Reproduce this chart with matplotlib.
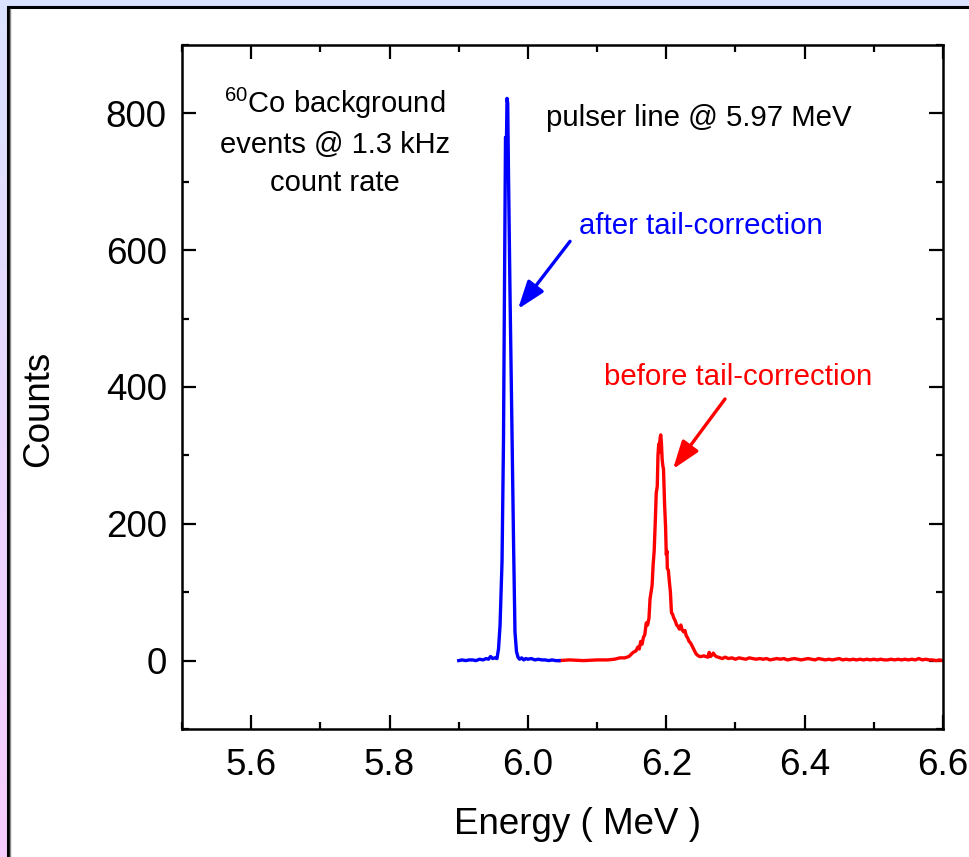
import numpy as np
import matplotlib
matplotlib.use("Agg")
import matplotlib.pyplot as plt
from matplotlib.patches import Rectangle
from matplotlib.ticker import MultipleLocator

# ---------------- data ----------------
blue_x = [5.900, 5.905, 5.910, 5.915, 5.920, 5.925, 5.930, 5.935, 5.940, 5.943,
          5.946, 5.949, 5.952, 5.9553, 5.9575, 5.9597, 5.9626, 5.9647, 5.9662,
          5.9676, 5.9690, 5.9698, 5.9708, 5.9720, 5.9741, 5.9770, 5.9792, 5.9813,
          5.9835, 5.9857, 5.988, 5.991, 5.994, 5.997, 6.000, 6.005, 6.010, 6.015,
          6.020, 6.025, 6.030, 6.035, 6.040, 6.045]
blue_y = [0, 1, 0, 1, 1, 0, 2, 1, 3, 2,
          6, 3, 4, 3, 17, 51, 145, 321, 555,
          765, 760, 822, 815, 707, 539, 334, 175, 42,
          13, 5, 2, 4, 1, 3, 2, 3, 1, 2,
          1, 1, 0, 1, 0, 0]

red_x = [6.045, 6.060, 6.080, 6.100, 6.115, 6.125, 6.133, 6.140, 6.146, 6.152,
         6.156, 6.159, 6.161, 6.163, 6.165, 6.167, 6.169, 6.171, 6.173, 6.175,
         6.1765, 6.178, 6.1795, 6.181, 6.1825, 6.184, 6.1855, 6.187, 6.188, 6.189,
         6.190, 6.1905, 6.191, 6.192, 6.193, 6.194, 6.195, 6.196, 6.1975, 6.199,
         6.200, 6.201, 6.2015, 6.203, 6.2045, 6.206, 6.2075, 6.209, 6.211, 6.213,
         6.215, 6.217, 6.219, 6.221, 6.223, 6.225, 6.227, 6.229, 6.231, 6.233,
         6.235, 6.237, 6.239, 6.241, 6.243, 6.245, 6.248, 6.251, 6.254, 6.257,
         6.260, 6.262, 6.264, 6.266, 6.268, 6.270, 6.272, 6.275, 6.278, 6.281,
         6.285, 6.290, 6.295, 6.300, 6.305, 6.310, 6.315, 6.320, 6.325, 6.330,
         6.335, 6.340, 6.345, 6.350, 6.355, 6.360, 6.365, 6.370, 6.375, 6.380,
         6.385, 6.390, 6.395, 6.400, 6.405, 6.410, 6.415, 6.420, 6.425, 6.430,
         6.435, 6.440, 6.445, 6.450, 6.455, 6.460, 6.465, 6.470, 6.475, 6.480,
         6.485, 6.490, 6.495, 6.500, 6.505, 6.510, 6.515, 6.520, 6.525, 6.530,
         6.535, 6.540, 6.545, 6.550, 6.555, 6.560, 6.565, 6.570, 6.575, 6.580,
         6.585, 6.590, 6.595, 6.600]
red_y = [0, 1, 0, 1, 1, 2, 4, 4, 6, 12,
         14, 20, 17, 28, 24, 34, 38, 55, 52, 62,
         90, 100, 110, 140, 160, 200, 245, 255, 300, 315,
         318, 305, 325, 330, 318, 295, 285, 280, 230, 195,
         155, 160, 135, 132, 115, 100, 70, 68, 62, 58,
         52, 50, 46, 52, 45, 42, 44, 36, 33, 28,
         26, 22, 18, 14, 10, 8, 6, 6, 7, 6,
         5, 12, 6, 8, 11, 8, 6, 5, 4, 3,
         5, 3, 4, 2, 4, 3, 2, 4, 3, 2,
         3, 2, 3, 1, 2, 3, 2, 3, 1, 2,
         3, 2, 1, 2, 3, 2, 1, 3, 2, 1,
         2, 1, 2, 3, 1, 2, 1, 2, 1, 2,
         1, 2, 1, 2, 1, 2, 1, 1, 2, 1,
         2, 1, 2, 1, 2, 1, 3, 1, 2, 1,
         1, 0, 1, 0]

x_ticks = [5.6, 5.8, 6.0, 6.2, 6.4, 6.6]
y_ticks = [0, 200, 400, 600, 800]

# ---------------- style ----------------
plt.rcParams['font.family'] = ['Liberation Sans', 'DejaVu Sans']
plt.rcParams['mathtext.fontset'] = 'custom'
plt.rcParams['mathtext.rm'] = 'Liberation Sans'
plt.rcParams['mathtext.it'] = 'Liberation Sans'

W, H = 970, 857
fig = plt.figure(figsize=(W / 100, H / 100), dpi=100)

# gradient background
bg = fig.add_axes([0, 0, 1, 1], zorder=-10)
top = np.array([0.86, 0.89, 1.0])
bot = np.array([0.97, 0.80, 1.0])
t = np.linspace(0, 1, 256)[:, None]
grad = top[None, :] * (1 - t) + bot[None, :] * t
bg.imshow(grad[:, None, :], aspect='auto', extent=[0, 1, 0, 1], origin='upper')
bg.set_axis_off()
# white panel with dark border
bg.add_patch(Rectangle((10 / W, -0.1), 1.2, (H - 8) / H + 0.1, transform=bg.transAxes,
                       facecolor='white', edgecolor='none', zorder=1))
bg.plot([8 / W, 8 / W, 1.01], [-0.01, 1 - 7 / H, 1 - 7 / H], color='black', lw=2.2,
        transform=bg.transAxes, zorder=2, solid_joinstyle='miter', clip_on=False)
bg.plot([10 / W, 10 / W], [-0.01, 1 - 9 / H], color='#888888', lw=1,
        transform=bg.transAxes, zorder=2)
bg.set_xlim(0, 1)
bg.set_ylim(0, 1)

ax = fig.add_axes([182 / W, 1 - 729 / H, (943 - 182) / W, (729 - 45) / H])
ax.patch.set_alpha(0)

ax.plot(red_x, red_y, color='#ff0000', lw=2.4)
ax.plot(blue_x, blue_y, color='#0000ff', lw=2.4)

ax.set_xlim(5.5, 6.6)
ax.set_ylim(-100, 900)
ax.set_xticks(x_ticks)
ax.set_xticklabels([f"{v:.1f}" for v in x_ticks])
ax.set_yticks(y_ticks)
ax.xaxis.set_minor_locator(MultipleLocator(0.1))
ax.yaxis.set_minor_locator(MultipleLocator(100))
ax.tick_params(which='both', direction='in', top=True, right=True, width=1.6)
ax.tick_params(which='major', length=10, labelsize=26.5)
ax.tick_params(which='minor', length=5)
ax.tick_params(axis='x', which='major', pad=14)
ax.tick_params(axis='y', which='major', pad=11)
for s in ax.spines.values():
    s.set_linewidth(1.8)

ax.set_xlabel('Energy ( MeV )', fontsize=26.5)
ax.set_ylabel('Counts', fontsize=26.5)
ax.xaxis.set_label_coords(0.52, -0.114)
ax.yaxis.set_label_coords(-0.166, 0.468)

ax.text(5.7212, 759, '$^{60}$Co background\nevents @ 1.3 kHz\ncount rate',
        ha='center', va='center', fontsize=21, linespacing=1.45, multialignment='center')
ax.text(6.0262, 794, 'pulser line @ 5.97 MeV', ha='left', va='center', fontsize=21.2)
ax.text(6.0739, 636, 'after tail-correction', ha='left', va='center',
        fontsize=21.2, color='#0000ff')
ax.text(6.1100, 415, 'before tail-correction', ha='left', va='center',
        fontsize=21.2, color='#ff0000')

ax.annotate('', xy=(5.9857, 514), xytext=(6.0609, 613),
            arrowprops=dict(arrowstyle='-|>,head_length=1.7,head_width=0.6',
                            color='#0000ff', lw=2.4, shrinkA=0, shrinkB=0))
ax.annotate('', xy=(6.2097, 280), xytext=(6.2849, 382.5),
            arrowprops=dict(arrowstyle='-|>,head_length=1.7,head_width=0.6',
                            color='#ff0000', lw=2.4, shrinkA=0, shrinkB=0))

fig.savefig('out.png', dpi=100)
